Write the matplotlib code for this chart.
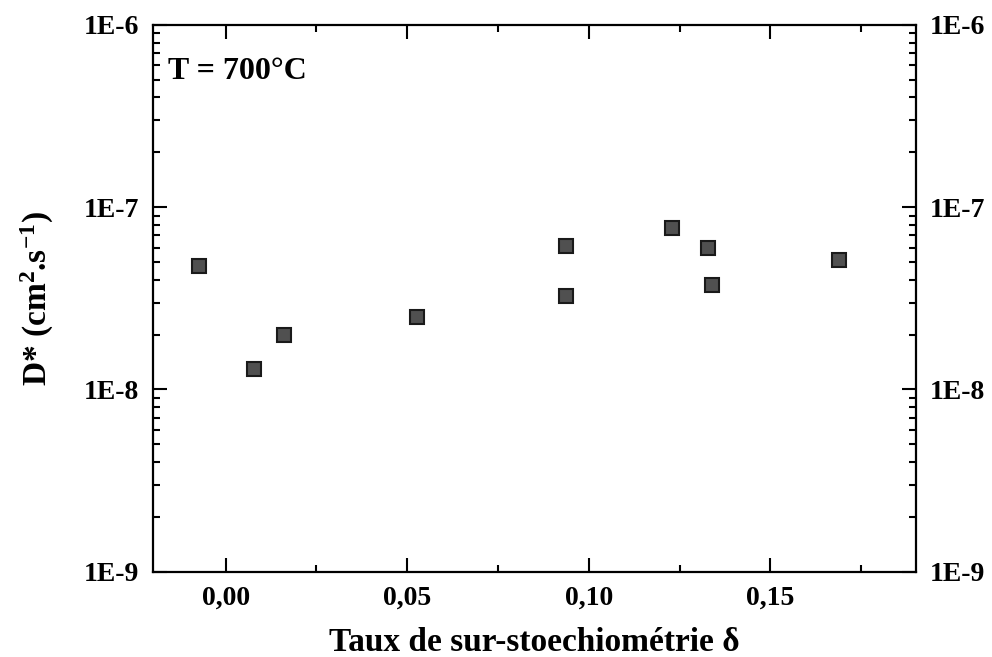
import numpy as np
import matplotlib
matplotlib.use("Agg")
import matplotlib.pyplot as plt
from matplotlib.ticker import FixedLocator, FuncFormatter, LogLocator, NullFormatter

plt.rcParams['font.family'] = ['Liberation Serif', 'DejaVu Serif']
plt.rcParams['font.weight'] = 'bold'
plt.rcParams['mathtext.fontset'] = 'custom'
plt.rcParams['mathtext.rm'] = 'Liberation Serif:bold'
plt.rcParams['mathtext.default'] = 'rm'

# taux de sur-stoechiometrie et coefficient de diffusion a 700 C
delta = [-0.0072, 0.0078, 0.0160, 0.0527, 0.0936, 0.0936, 0.1228, 0.1329, 0.1339, 0.1689]
dstar = [4.77e-8, 1.30e-8, 2.00e-8, 2.50e-8, 6.15e-8, 3.27e-8, 7.66e-8, 5.94e-8, 3.72e-8, 5.14e-8]

xticks = [0.00, 0.05, 0.10, 0.15]
yticks = [1e-9, 1e-8, 1e-7, 1e-6]

fig = plt.figure(figsize=(9.92, 6.57), dpi=100)
ax = fig.add_axes([0.1542, 0.1298, 0.7689, 0.8322])

ax.plot(delta, dstar, linestyle='none', marker='s', markersize=9.5,
        markerfacecolor='#505050', markeredgecolor='#1a1a1a', markeredgewidth=1.5)

ax.set_yscale('log')
ax.set_xlim(-0.02, 0.19)
ax.set_ylim(1e-9, 1e-6)

ax.xaxis.set_major_locator(FixedLocator(xticks))
ax.xaxis.set_minor_locator(FixedLocator([0.025, 0.075, 0.125, 0.175]))
ax.xaxis.set_major_formatter(FuncFormatter(lambda v, p: ('%.2f' % v).replace('.', ',')))
ax.yaxis.set_major_locator(FixedLocator(yticks))
ax.yaxis.set_minor_locator(LogLocator(base=10, subs=np.arange(2, 10)))
ax.yaxis.set_minor_formatter(NullFormatter())
ax.yaxis.set_major_formatter(FuncFormatter(lambda v, p: '1E%d' % round(np.log10(v))))

ax.tick_params(which='both', direction='in', top=True, right=True, labelright=True,
               labelsize=20, width=1.5)
ax.tick_params(which='major', length=10, pad=10)
ax.tick_params(which='minor', length=5)
for s in ax.spines.values():
    s.set_linewidth(1.6)

ax.set_xlabel('Taux de sur-stoechiométrie δ', fontsize=24, fontweight='bold', labelpad=12)
ax.set_ylabel('D* (cm$^2$.s$^{-1}$)', fontsize=24, fontweight='bold', labelpad=20)
ax.text(0.02, 0.915, 'T = 700°C', transform=ax.transAxes, fontsize=23,
        fontweight='bold', va='center', ha='left')

fig.savefig('out.png', dpi=100)
